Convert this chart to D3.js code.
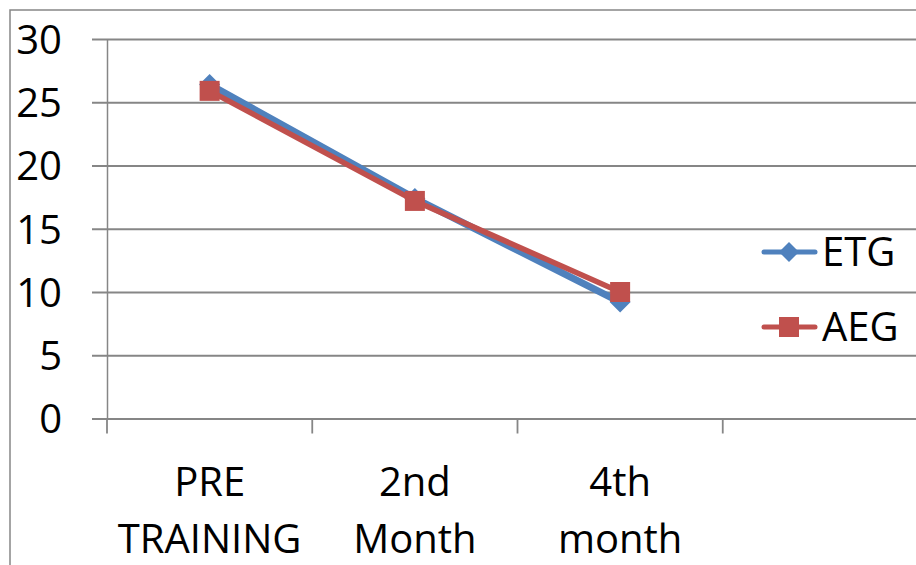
<!DOCTYPE html>
<html>
<head>
<meta charset="utf-8">
<script src="https://cdn.jsdelivr.net/npm/d3@7"></script>
<style>
  body { margin: 0; background: #fff; }
  text { font-family: "Open Sans", sans-serif; fill: #000; }
</style>
</head>
<body>
<div id="chart"></div>
<script>
// data
const categories = ["PRE TRAINING", "2nd Month", "4th month", ""];
const etgValues = [26.4, 17.4, 9.2];
const aegValues = [25.9, 17.2, 10.0];
const yTicks = [0, 5, 10, 15, 20, 25, 30];
const seriesNames = ["ETG", "AEG"];

const W = 916, H = 565;
const margin = {top: 39, left: 107};
const plotBottom = 418.5;
const plotRight = 928;

const svg = d3.select("#chart").append("svg")
    .attr("width", W)
    .attr("height", H);

// outer chart frame
svg.append("rect")
    .attr("x", 10).attr("y", 10)
    .attr("width", W + 20).attr("height", H + 20)
    .attr("fill", "none")
    .attr("stroke", "#868686")
    .attr("stroke-width", 1.5);

const x = d3.scaleBand()
    .domain(categories)
    .range([margin.left, plotRight]);

const y = d3.scaleLinear()
    .domain([0, 30])
    .range([plotBottom, margin.top]);

// horizontal gridlines + y labels
const yAxis = d3.axisLeft(y)
    .tickValues(yTicks)
    .tickSize(-(plotRight - margin.left))
    .tickSizeOuter(0)
    .tickPadding(0);

const yG = svg.append("g")
    .attr("transform", `translate(${margin.left},0)`)
    .call(yAxis);
yG.select(".domain").attr("stroke", "#868686").attr("stroke-width", 1.5);
yG.selectAll(".tick line")
    .attr("x1", -15)
    .attr("stroke", "#868686")
    .attr("stroke-width", 1.8);
yG.selectAll(".tick text")
    .attr("x", -45)
    .attr("dy", "0.36em")
    .style("font-size", "40px")
    .style("font-family", "'Open Sans', sans-serif")
    .attr("fill", "#000");

// category axis
const xAxis = d3.axisBottom(x)
    .tickValues([])
    .tickSizeOuter(0);
const xG = svg.append("g")
    .attr("transform", `translate(0,${plotBottom})`)
    .call(xAxis);
xG.select(".domain").attr("stroke", "#868686").attr("stroke-width", 1.8);

// tick marks at category boundaries
xG.selectAll(".bound")
    .data(categories)
    .enter().append("line")
    .attr("class", "bound")
    .attr("x1", d => x(d)).attr("x2", d => x(d))
    .attr("y1", 0).attr("y2", 15)
    .attr("stroke", "#868686")
    .attr("stroke-width", 1.8);

// category labels, two lines each
xG.selectAll(".cat")
    .data(categories.filter(d => d !== ""))
    .enter().append("text")
    .attr("class", "cat")
    .attr("text-anchor", "middle")
    .style("font-size", "40px")
    .each(function(d) {
        const words = d.split(" ");
        const t = d3.select(this);
        words.forEach((w, i) => {
            t.append("tspan")
                .attr("x", x(d) + x.bandwidth() / 2)
                .attr("y", 77 + i * 57)
                .text(w);
        });
    });

const cx = (d, i) => x(categories[i]) + x.bandwidth() / 2;
const line = d3.line()
    .x((d, i) => cx(d, i))
    .y(d => y(d));

const diamond = s => `M0,${-s}L${s},0L0,${s}L${-s},0Z`;

// ETG
svg.append("path")
    .datum(etgValues)
    .attr("d", line)
    .attr("fill", "none")
    .attr("stroke", "#4F81BD")
    .attr("stroke-width", 7)
    .attr("stroke-linejoin", "round");
svg.selectAll(".etg")
    .data(etgValues)
    .enter().append("path")
    .attr("class", "etg")
    .attr("d", diamond(10.5))
    .attr("transform", (d, i) => `translate(${cx(d, i)},${y(d)})`)
    .attr("fill", "#4F81BD");

// AEG
svg.append("path")
    .datum(aegValues)
    .attr("d", line)
    .attr("fill", "none")
    .attr("stroke", "#C0504D")
    .attr("stroke-width", 5.5)
    .attr("stroke-linejoin", "round");
svg.selectAll(".aeg")
    .data(aegValues)
    .enter().append("rect")
    .attr("class", "aeg")
    .attr("x", (d, i) => cx(d, i) - 10)
    .attr("y", d => y(d) - 10)
    .attr("width", 20).attr("height", 20)
    .attr("fill", "#C0504D");

// legend
const legend = svg.append("g").attr("class", "legend");
const legColors = ["#4F81BD", "#C0504D"];
const legY = [252, 327];
seriesNames.forEach((name, i) => {
    const g = legend.append("g").attr("transform", `translate(0,${legY[i]})`);
    g.append("line")
        .attr("x1", 764).attr("x2", 815)
        .attr("stroke", legColors[i])
        .attr("stroke-width", 5)
        .attr("stroke-linecap", "round");
    if (i === 0) {
        g.append("path").attr("d", diamond(10))
            .attr("transform", "translate(789,0)")
            .attr("fill", legColors[i]);
    } else {
        g.append("rect").attr("x", 779).attr("y", -10)
            .attr("width", 20).attr("height", 20)
            .attr("fill", legColors[i]);
    }
    g.append("text")
        .attr("x", 822)
        .attr("dy", "0.36em")
        .style("font-size", "40px")
        .text(name);
});
</script>
</body>
</html>
